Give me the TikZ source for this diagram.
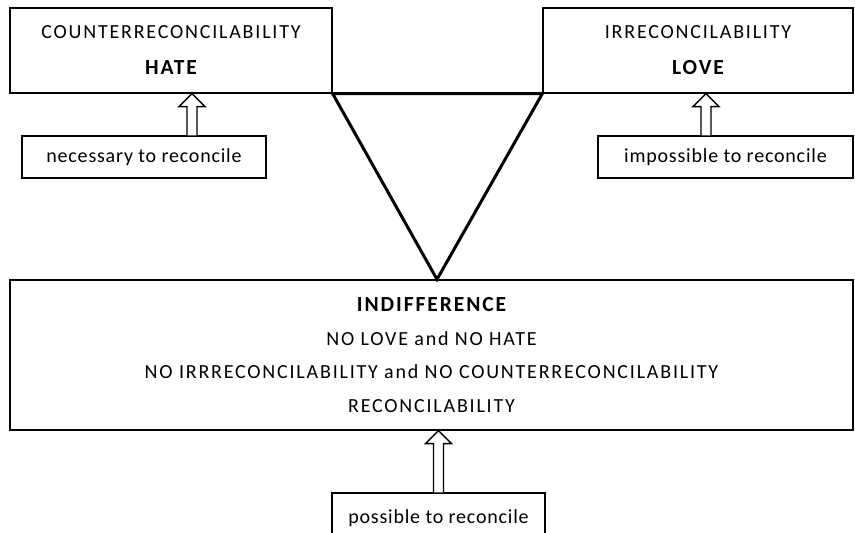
\documentclass[tikz,border=0pt]{standalone}
\usepackage{fontspec}
\setmainfont{Carlito}[LetterSpace=4]
\newfontfamily\capsfont{Carlito}[LetterSpace=9]
\newfontfamily\boldcaps{Carlito}[LetterSpace=9,UprightFont=*-Bold]
\usetikzlibrary{arrows.meta,calc}
\newcommand\hollowup[2]{%
  \draw[hollow] let \p1=(#1), \p2=(#2) in
    (\x1-5pt,\y1) -- (\x1-5pt,\y2-13pt) -- (\x1-13pt,\y2-13pt) -- (\x1,\y2)
    -- (\x1+13pt,\y2-13pt) -- (\x1+5pt,\y2-13pt) -- (\x1+5pt,\y1);}
\begin{document}
\begin{tikzpicture}[x=1pt,y=-1pt,
  box/.style={draw, line width=1.3pt, rectangle, inner sep=0pt, align=center, font=\fontsize{20}{24}\selectfont},
  hollow/.style={draw, line width=1.4pt, line join=miter, fill=white},
  tri/.style={draw, line width=3pt, line join=miter}]
\useasboundingbox (0,0) rectangle (855,533);
\node[box, minimum width=322pt, minimum height=85pt] (hate) at (171,50.5)
  {\capsfont COUNTERRECONCILABILITY\\[12pt]\fontsize{21.5}{24}\boldcaps HATE};
\node[box, minimum width=310pt, minimum height=85pt] (love) at (698,50.5)
  {\capsfont IRRECONCILABILITY\\[12pt]\fontsize{21.5}{24}\boldcaps LOVE};
\node[box, minimum width=843pt, minimum height=150pt] (indiff) at (431.5,355)
  {\fontsize{21.5}{24}\boldcaps INDIFFERENCE\\[9.5pt]\capsfont NO LOVE and NO HATE\\[9.5pt]\capsfont NO IRRRECONCILABILITY and NO COUNTERRECONCILABILITY\\[9.5pt]\capsfont RECONCILABILITY};
\node[box, minimum width=244pt, minimum height=42pt] (nec) at (144,157) {necessary to reconcile};
\node[box, minimum width=255pt, minimum height=42pt] (imp) at (725.5,157) {impossible to reconcile};
\node[box, minimum width=213pt, minimum height=50pt] (pos) at (438.5,518) {possible to reconcile};
\draw[tri] (hate.south east) -- (love.south west) -- (indiff.north -| 437,0) -- cycle;
\hollowup{[xshift=48pt]nec.north}{[xshift=48pt]nec.north |- hate.south}
\hollowup{[xshift=-19.5pt]imp.north}{[xshift=-19.5pt]imp.north |- love.south}
\hollowup{pos.north}{pos.north |- indiff.south}
\end{tikzpicture}
\end{document}
